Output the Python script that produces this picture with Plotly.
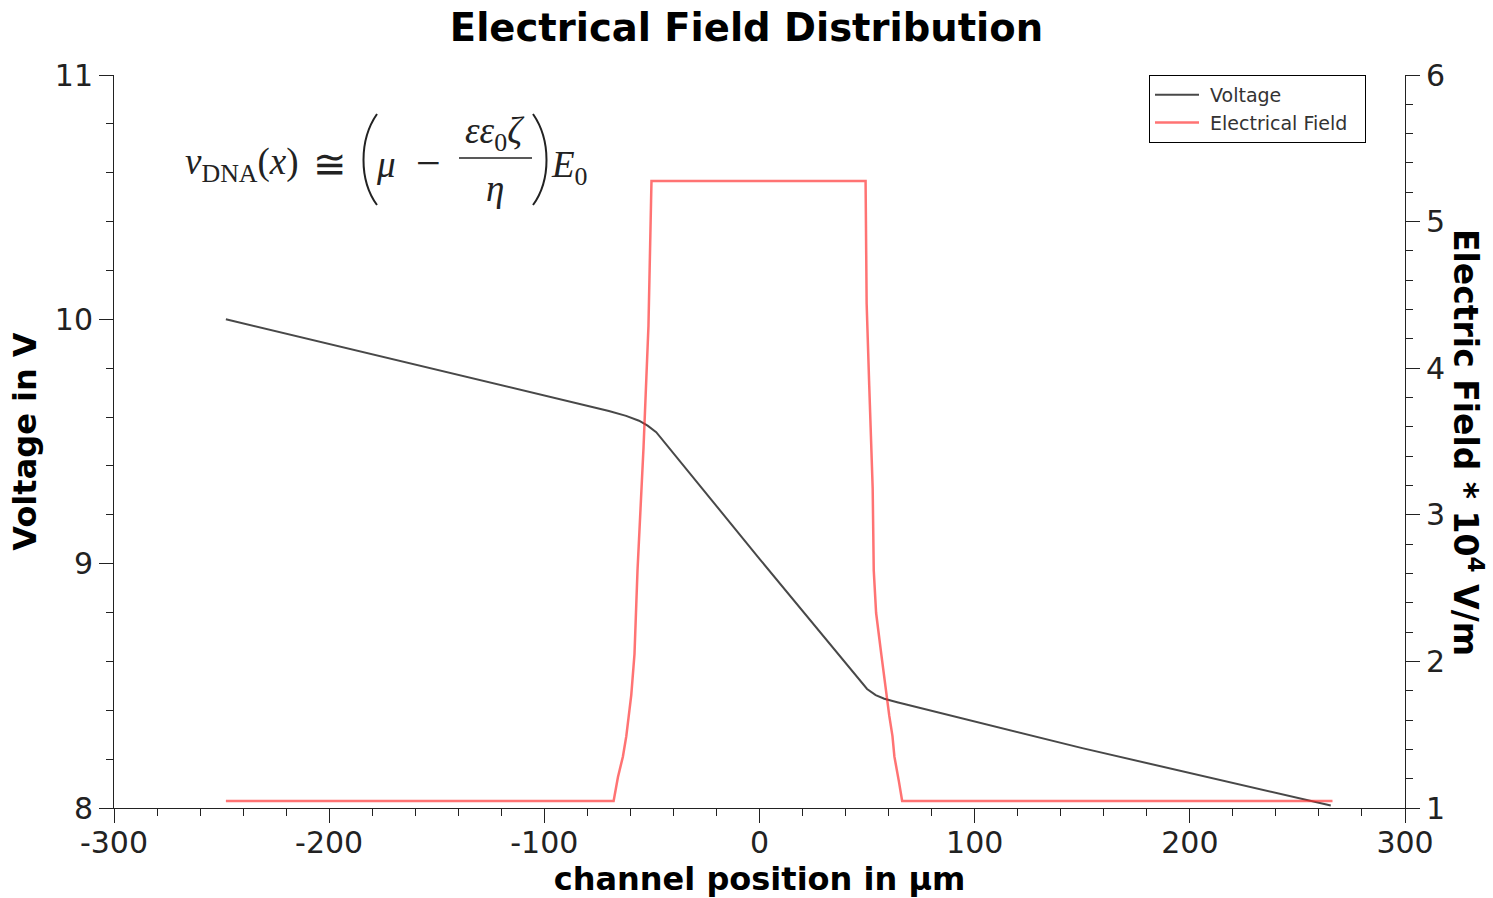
import plotly.graph_objects as go

# ---------------- data ----------------
pos_v = [-248, -150, -100, -70, -62, -56, -52, -48, 0, 45, 50, 54, 58, 64, 70, 150, 265.5]
voltage = [10.0, 9.795, 9.69, 9.625, 9.605, 9.585, 9.565, 9.538, 9.02, 8.538, 8.487,
           8.462, 8.447, 8.433, 8.42, 8.245, 8.01]

pos_e = [-248, -67.8, -65.8, -63.5, -61.9, -60.7, -59.6, -58.1, -57.3, -56.7, -53.9, -51.6,
         -50.4, -50.2, 49.3, 49.8, 51.0, 51.8, 52.6, 53.1, 54.2, 56.6, 58.9, 60.3, 61.8,
         62.7, 64.8, 66.3, 266.3]
field = [1.048, 1.048, 1.21, 1.35, 1.49, 1.63, 1.77, 2.05, 2.33, 2.62, 3.46, 4.29,
         5.14, 5.277, 5.277, 4.44, 3.88, 3.46, 3.18, 2.62, 2.33, 2.05, 1.77, 1.63, 1.49,
         1.35, 1.18, 1.048, 1.048]

x_ticks = [-300, -200, -100, 0, 100, 200, 300]
v_ticks = [8, 9, 10, 11]
e_ticks = [1, 2, 3, 4, 5, 6]

# ---------------- layout helpers ----------------
W, H = 1493, 898
L, R, T, B = 114, 1405, 75, 808


def px(x):
    return (x - L) / (R - L)


def py(y):
    return (B - y) / (B - T)


SANS = "DejaVu Sans"
SERIF = "Liberation Serif"
INK = "#222222"
NB = "\u00a0"

fig = go.Figure()
fig.add_trace(go.Scatter(x=pos_v, y=voltage, mode="lines", name=NB + "Voltage" + NB * 2,
                         line=dict(color="rgba(40,40,40,0.85)", width=2), yaxis="y"))
fig.add_trace(go.Scatter(x=pos_e, y=field, mode="lines", name=NB + "Electrical Field" + NB * 2,
                         line=dict(color="rgba(255,40,40,0.65)", width=2.5), yaxis="y2"))

axis_common = dict(showgrid=False, zeroline=False, showline=True, linecolor=INK, linewidth=1,
                   ticks="outside", ticklen=14, tickcolor=INK, tickwidth=1,
                   tickfont=dict(family=SANS, size=30, color=INK))

fig.update_layout(
    width=W, height=H,
    margin=dict(l=L, r=W - R, t=T, b=H - B, autoexpand=False),
    paper_bgcolor="white", plot_bgcolor="white",
    title=dict(text="<b>Electrical Field Distribution</b>", x=0.5, xref="container",
               xanchor="center", y=1 - 28 / H, yref="container", yanchor="middle",
               font=dict(family=SANS, size=38.5, color="black")),
    xaxis=dict(range=[-300, 300], tickvals=x_ticks, ticktext=[str(v) for v in x_ticks],
               minor=dict(dtick=20, ticklen=7, ticks="outside", tickcolor=INK),
               ticklabelstandoff=-6,
               title=dict(text="<b>channel position in µm</b>", standoff=6,
                          font=dict(family=SANS, size=32, color="black")),
               **axis_common),
    yaxis=dict(range=[8, 11], tickvals=v_ticks,
               minor=dict(dtick=0.2, ticklen=7, ticks="outside", tickcolor=INK),
               title=dict(text="<b>Voltage in V</b>", standoff=8,
                          font=dict(family=SANS, size=32, color="black")),
               **axis_common),
    yaxis2=dict(range=[1, 6], tickvals=e_ticks, overlaying="y", side="right",
                minor=dict(dtick=0.2, ticklen=7, ticks="outside", tickcolor=INK),
                **axis_common),
    legend=dict(x=px(1149), y=1, xanchor="left", yanchor="top",
                bordercolor="black", borderwidth=1, bgcolor="white",
                itemwidth=44, font=dict(family=SANS, size=19, color="#333333")),
    showlegend=True,
)

ann = []
# right axis title (reads top-to-bottom)
ann.append(dict(text="<b>Electric Field * 10<sup>4</sup> V/m</b>", x=px(1468), y=py(442),
                xref="paper", yref="paper", xanchor="center", yanchor="middle",
                textangle=90, showarrow=False,
                font=dict(family=SANS, size=33, color="black")))

ffont = dict(family=SERIF, size=37, color="#222222")
# formula pieces
ann.append(dict(text="<i>v</i><sub>DNA</sub>(<i>x</i>)", x=px(183), y=py(165),
                xanchor="left", yanchor="middle"))
ann.append(dict(text="≅", x=px(330), y=py(164), xanchor="center", yanchor="middle",
                font=dict(family=SERIF, size=40, color="#222222")))
ann.append(dict(text="<i>μ</i>", x=px(386), y=py(165), xanchor="center", yanchor="middle"))
ann.append(dict(text="−", x=px(428), y=py(163), xanchor="center", yanchor="middle",
                font=dict(family=SERIF, size=44, color="#222222")))
ann.append(dict(text="<i>εε</i><sub>0</sub><i>ζ</i>", x=px(495), y=py(133),
                xanchor="center", yanchor="middle"))
ann.append(dict(text="<i>η</i>", x=px(495), y=py(188), xanchor="center", yanchor="middle"))
ann.append(dict(text="<i>E</i><sub>0</sub>", x=px(549), y=py(168),
                xanchor="left", yanchor="middle"))
for a in ann[1:]:
    a.update(xref="paper", yref="paper", showarrow=False)
    a.setdefault("font", ffont)
fig.update_layout(annotations=ann)


def pth(points):
    (x0, y0), (x1, y1), (x2, y2), (x3, y3) = points
    return (f"M {px(x0)},{py(y0)} C {px(x1)},{py(y1)} {px(x2)},{py(y2)} {px(x3)},{py(y3)}")


shapes = [
    dict(type="path", xref="paper", yref="paper",
         path=pth([(377, 114), (359, 140), (359, 180), (377, 205)]),
         line=dict(color="#222222", width=2)),
    dict(type="path", xref="paper", yref="paper",
         path=pth([(533, 114), (551, 140), (551, 180), (533, 205)]),
         line=dict(color="#222222", width=2)),
    dict(type="line", xref="paper", yref="paper", x0=px(459), x1=px(532), y0=py(158), y1=py(158),
         line=dict(color="#222222", width=1.5)),
]
fig.update_layout(shapes=shapes)

fig.write_html("out.html", config={"displayModeBar": False},
               post_script="document.body.style.margin='0px';document.body.style.overflow='hidden';")
